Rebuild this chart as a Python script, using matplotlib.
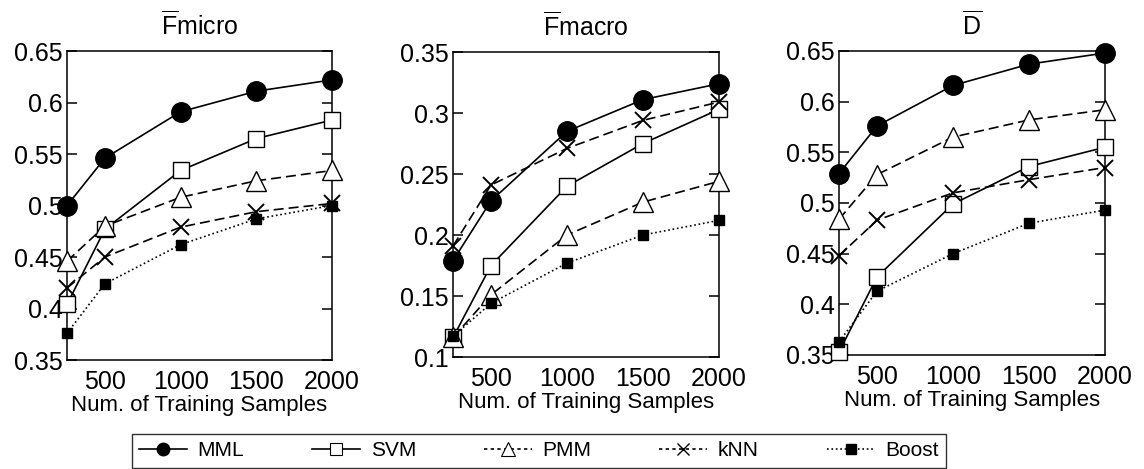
import numpy as np
import matplotlib
matplotlib.use('Agg')
import matplotlib.pyplot as plt
from matplotlib.lines import Line2D
from matplotlib.ticker import FormatStrFormatter

plt.rcParams['font.family'] = ['Liberation Sans', 'DejaVu Sans']
plt.rcParams['mathtext.fontset'] = 'custom'
plt.rcParams['mathtext.rm'] = 'Liberation Sans'
plt.rcParams['mathtext.it'] = 'Liberation Sans:italic'

# training set sizes
samples = [250, 500, 1000, 1500, 2000]
methods = ['MML', 'SVM', 'PMM', 'kNN', 'Boost']

# F micro
fmicro_mml = [0.500, 0.546, 0.591, 0.611, 0.622]
fmicro_svm = [0.404, 0.477, 0.534, 0.565, 0.583]
fmicro_pmm = [0.446, 0.480, 0.508, 0.524, 0.534]
fmicro_knn = [0.420, 0.450, 0.479, 0.494, 0.502]
fmicro_boost = [0.376, 0.424, 0.462, 0.487, 0.500]

# F macro
fmacro_mml = [0.179, 0.228, 0.285, 0.311, 0.324]
fmacro_svm = [0.116, 0.175, 0.240, 0.275, 0.303]
fmacro_pmm = [0.116, 0.151, 0.200, 0.227, 0.244]
fmacro_knn = [0.191, 0.241, 0.271, 0.294, 0.309]
fmacro_boost = [0.117, 0.144, 0.177, 0.200, 0.212]

# D
d_mml = [0.529, 0.576, 0.616, 0.637, 0.648]
d_svm = [0.353, 0.427, 0.499, 0.536, 0.555]
d_pmm = [0.484, 0.528, 0.565, 0.582, 0.592]
d_knn = [0.448, 0.483, 0.510, 0.523, 0.535]
d_boost = [0.363, 0.413, 0.450, 0.480, 0.493]

titles = [r'$\overline{\mathrm{F}}$micro', r'$\overline{\mathrm{F}}$macro', r'$\overline{\mathrm{D}}$']
ylims = [(0.35, 0.65), (0.1, 0.35), (0.35, 0.65)]
panels = [
    [fmicro_mml, fmicro_svm, fmicro_pmm, fmicro_knn, fmicro_boost],
    [fmacro_mml, fmacro_svm, fmacro_pmm, fmacro_knn, fmacro_boost],
    [d_mml, d_svm, d_pmm, d_knn, d_boost],
]

styles = [
    dict(ls='-', marker='o', ms=14, mfc='black', mec='black'),
    dict(ls='-', marker='s', ms=11, mfc='white', mec='black', mew=1.0),
    dict(ls=(0, (6, 3)), marker='^', ms=15, mfc='white', mec='black', mew=1.0),
    dict(ls=(0, (6, 3)), marker='x', ms=11, mfc='black', mec='black', mew=1.4),
    dict(ls=':', marker='s', ms=7, mfc='black', mec='black'),
]
leg_styles = [
    dict(ls='-', marker='o', ms=9, mfc='black', mec='black'),
    dict(ls='-', marker='s', ms=8, mfc='white', mec='black', mew=0.8),
    dict(ls=(0, (2, 2)), marker='^', ms=10, mfc='white', mec='black', mew=0.8),
    dict(ls=(0, (2, 2)), marker='x', ms=8, mfc='black', mec='black', mew=1.0),
    dict(ls=':', marker='s', ms=7, mfc='black', mec='black'),
]

fig = plt.figure(figsize=(11.44, 4.69), dpi=100)
rects = [
    [0.0586, 0.2324, 0.2316, 0.6588],
    [0.3960, 0.2388, 0.2325, 0.6503],
    [0.7334, 0.2431, 0.2325, 0.6482],
]

for rect, title, ylim, series in zip(rects, titles, ylims, panels):
    ax = fig.add_axes(rect)
    for vals, st in zip(series, styles):
        ax.plot(samples, vals, color='black', lw=1.2, clip_on=False, zorder=3, **st)
    ax.set_xlim(250, 2000)
    ax.set_ylim(*ylim)
    ax.set_xticks([500, 1000, 1500, 2000])
    ax.set_yticks(np.arange(ylim[0], ylim[1] + 0.001, 0.05))
    ax.yaxis.set_major_formatter(FormatStrFormatter('%g'))
    ax.tick_params(axis='y', direction='in', left=True, right=True, length=7, width=1.1, labelsize=18, pad=3)
    ax.tick_params(axis='x', length=0, labelsize=18, pad=7)
    for sp in ax.spines.values():
        sp.set_linewidth(1.1)
    ax.set_xlabel('Num. of Training Samples', fontsize=16, labelpad=1)
    ax.set_title(title, fontsize=18, pad=12)

handles = [Line2D([], [], color='black', lw=1.2, **st) for st in leg_styles]
leg = fig.legend(handles, methods, loc='upper left', ncol=5, mode='expand',
                 bbox_to_anchor=(0.1154, 0.0, 0.7115, 1 - 434 / 469),
                 borderaxespad=0, fontsize=15, frameon=True, fancybox=False,
                 edgecolor='black', handlelength=2.3, handletextpad=0.5,
                 borderpad=0.35)
leg.get_frame().set_linewidth(1.0)

fig.savefig('out.png', dpi=100)
